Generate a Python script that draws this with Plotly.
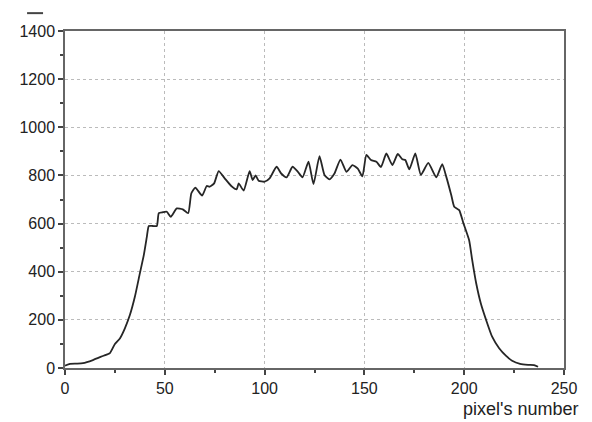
import plotly.graph_objects as go

# pixel index (x) and signal value (y)
pixel = [0, 2.5, 6, 9, 14, 19, 22.5, 25, 27.5, 30,
         32.5, 35, 37.5, 39.5, 41, 42, 44, 46, 47, 49,
         51, 53, 56, 59, 61.7, 63.3, 65.3, 68.7, 71, 72.5,
         74.7, 77, 80, 83.3, 86, 87, 89.5, 92.5, 94, 95.5,
         97, 100, 102.5, 106, 108.3, 111, 114, 116.7, 119, 122,
         124.5, 127.5, 130, 132.5, 135, 138, 141, 144, 146.7, 149,
         151, 153.3, 156, 158.3, 161, 164, 166.7, 169, 170.5, 172.5,
         175.5, 178.3, 182, 186, 189, 191, 193.5, 195, 197.5, 199.5,
         202.5, 204, 206, 208.3, 211, 214, 217.5, 221, 224, 228,
         232, 235, 237]
signal = [10, 17, 18, 20, 33, 50, 62, 100, 123, 165,
          220, 296, 393, 470, 545, 590, 590, 590, 643, 647,
          649, 628, 663, 659, 643, 726, 749, 716, 756, 753,
          767, 818, 788, 756, 742, 767, 737, 818, 781, 800,
          778, 774, 788, 836, 808, 792, 836, 815, 792, 857,
          764, 880, 802, 784, 808, 866, 815, 843, 828, 796,
          885, 864, 857, 835, 891, 843, 889, 867, 864, 825,
          891, 802, 852, 792, 847, 795, 719, 670, 656, 604,
          530, 449, 352, 269, 199, 130, 82, 50, 30, 17,
          13, 12, 5]

x_ticks = [0, 50, 100, 150, 200, 250]
y_ticks = [0, 200, 400, 600, 800, 1000, 1200, 1400]
x_title = "pixel's number"

fig = go.Figure()
fig.add_trace(go.Scatter(
    x=pixel, y=signal, mode="lines",
    line=dict(color="#262626", width=1.8, shape="spline", smoothing=0.5),
    showlegend=False, hoverinfo="skip"))

font_family = "Liberation Sans, Arial, sans-serif"
# the page shows the figure with an 8px body margin, so the figure is sized to fit
fig.update_layout(
    width=584, height=414,
    margin=dict(l=57, r=28, t=23, b=54),
    paper_bgcolor="white", plot_bgcolor="white",
    font=dict(family=font_family, size=16, color="#222222"),
    xaxis=dict(range=[0, 250], tickvals=x_ticks, showline=True, mirror=True,
               linecolor="#666666", linewidth=1.5,
               ticks="outside", ticklen=5, tickwidth=1.5, tickcolor="#444444",
               showgrid=True, gridcolor="#bbbbbb", griddash="dot", gridwidth=1,
               zeroline=False, automargin=False,
               minor=dict(dtick=25, ticks="outside", ticklen=3, tickcolor="#444444", showgrid=False),
               tickfont=dict(size=16)),
    yaxis=dict(range=[0, 1400], tickvals=y_ticks, showline=True, mirror=True,
               linecolor="#666666", linewidth=1.5,
               ticks="outside", ticklen=5, tickwidth=1.5, tickcolor="#444444",
               showgrid=True, gridcolor="#bbbbbb", griddash="dot", gridwidth=1,
               zeroline=False, automargin=False,
               minor=dict(dtick=100, ticks="outside", ticklen=3, tickcolor="#444444", showgrid=False),
               tickfont=dict(size=16)),
    annotations=[dict(text=x_title, xref="paper", yref="paper",
                      x=1.034, y=-0.086, xanchor="right", yanchor="top",
                      showarrow=False, font=dict(size=18, color="#222222"))],
    shapes=[dict(type="line", xref="paper", yref="paper",
                 x0=-0.076, x1=-0.044, y0=1.053, y1=1.053,
                 line=dict(color="#444444", width=2))],
)

fig.write_html("out.html")
